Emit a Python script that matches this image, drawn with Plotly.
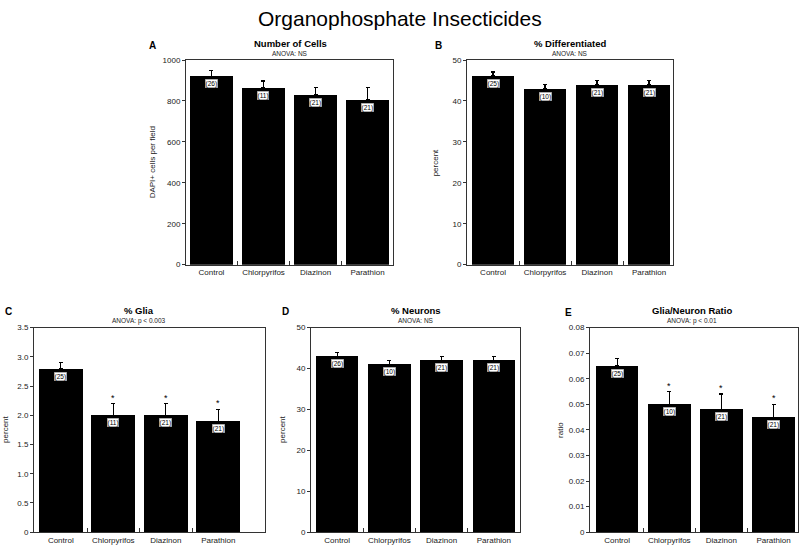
import plotly.graph_objects as go

# ---------------- data ----------------
categories = ["Control", "Chlorpyrifos", "Diazinon", "Parathion"]

cells_mean = [920, 864, 829, 806]
cells_err = [29, 34, 37, 58]
cells_n = ["(26)", "(11)", "(21)", "(21)"]
cells_star = ["", "", "", ""]

diff_mean = [46.1, 43.0, 44.0, 44.0]
diff_err = [1.0, 1.0, 1.0, 1.0]
diff_n = ["(25)", "(10)", "(21)", "(21)"]
diff_star = ["", "", "", ""]

glia_mean = [2.80, 2.00, 2.00, 1.90]
glia_err = [0.10, 0.20, 0.20, 0.20]
glia_n = ["(25)", "(11)", "(21)", "(21)"]
glia_star = ["", "*", "*", "*"]

neur_mean = [43.0, 41.0, 42.0, 42.0]
neur_err = [1.0, 1.0, 1.0, 1.0]
neur_n = ["(26)", "(10)", "(21)", "(21)"]
neur_star = ["", "", "", ""]

ratio_mean = [0.065, 0.050, 0.048, 0.045]
ratio_err = [0.003, 0.005, 0.006, 0.005]
ratio_n = ["(25)", "(10)", "(21)", "(21)"]
ratio_star = ["", "*", "*", "*"]

panel_letters = ["A", "B", "C", "D", "E"]
panel_titles = ["Number of Cells", "% Differentiated", "% Glia", "% Neurons", "Glia/Neuron Ratio"]
panel_subtitles = ["ANOVA: NS", "ANOVA: NS", "ANOVA: p < 0.003", "ANOVA: NS", "ANOVA: p < 0.01"]
y_titles = ["DAPI+ cells per field", "percent", "percent", "percent", "ratio"]

cells_ticks = [0, 200, 400, 600, 800, 1000]
cells_ticktext = ["0", "200", "400", "600", "800", "1000"]
pct_ticks = [0, 10, 20, 30, 40, 50]
pct_ticktext = ["0", "10", "20", "30", "40", "50"]
glia_ticks = [0, 0.5, 1.0, 1.5, 2.0, 2.5, 3.0, 3.5]
glia_ticktext = ["0", "0.5", "1.0", "1.5", "2.0", "2.5", "3.0", "3.5"]
ratio_ticks = [0, 0.01, 0.02, 0.03, 0.04, 0.05, 0.06, 0.07, 0.08]
ratio_ticktext = ["0", "0.01", "0.02", "0.03", "0.04", "0.05", "0.06", "0.07", "0.08"]

# ---------------- layout geometry (pixels) ----------------
W, H = 800, 549
FONT = "Liberation Sans, Arial, Helvetica, sans-serif"

panels = [
    dict(mean=cells_mean, err=cells_err, n=cells_n, star=cells_star,
         ticks=cells_ticks, ticktext=cells_ticktext, yr=[0, 1000],
         px=(186, 393), py=(57, 265), xr=[-0.49, 3.49], bw=0.82,
         letter_xy=(147, 42), title_x=290, ytitle_x=152),
    dict(mean=diff_mean, err=diff_err, n=diff_n, star=diff_star,
         ticks=pct_ticks, ticktext=pct_ticktext, yr=[0, 50],
         px=(467, 673), py=(57, 265), xr=[-0.5, 3.46], bw=0.81,
         letter_xy=(433, 42), title_x=570, ytitle_x=435),
    dict(mean=glia_mean, err=glia_err, n=glia_n, star=glia_star,
         ticks=glia_ticks, ticktext=glia_ticktext, yr=[0, 3.5],
         px=(34, 265), py=(329, 537), xr=[-0.51, 3.89], bw=0.83,
         letter_xy=(3, 313), title_x=139, ytitle_x=6),
    dict(mean=neur_mean, err=neur_err, n=neur_n, star=neur_star,
         ticks=pct_ticks, ticktext=pct_ticktext, yr=[0, 50],
         px=(311, 520), py=(329, 537), xr=[-0.5, 3.5], bw=0.81,
         letter_xy=(280, 313), title_x=416, ytitle_x=283),
    dict(mean=ratio_mean, err=ratio_err, n=ratio_n, star=ratio_star,
         ticks=ratio_ticks, ticktext=ratio_ticktext, yr=[0, 0.08],
         px=(590, 798), py=(329, 537), xr=[-0.52, 3.47], bw=0.82,
         letter_xy=(563, 314), title_x=692, ytitle_x=561),
]

fig = go.Figure()
annotations = []
xpos = list(range(len(categories)))

for i, p in enumerate(panels):
    k = "" if i == 0 else str(i + 1)
    xa, ya = "x" + k, "y" + k
    fig.add_trace(go.Bar(
        x=xpos, y=p["mean"], width=p["bw"], xaxis=xa, yaxis=ya,
        marker=dict(color="black", line=dict(width=0)),
        error_y=dict(type="data", symmetric=False, array=p["err"],
                     arrayminus=[0] * len(p["err"]), color="black",
                     thickness=1.2, width=2),
        showlegend=False, hoverinfo="skip",
    ))
    x0, x1 = p["px"]
    y0, y1 = p["py"]
    dom_x = [x0 / W, x1 / W]
    dom_y = [1 - y1 / H, 1 - y0 / H]
    fig.layout["xaxis" + k] = dict(
        domain=dom_x, range=p["xr"], anchor=ya, tickvals=xpos, ticktext=categories,
        ticks="", showline=True, mirror=True, linecolor="#333", linewidth=1,
        showgrid=False, zeroline=False, fixedrange=True,
        tickfont=dict(family=FONT, size=8, color="#222"),
        minor=dict(tickvals=[0.5, 1.5, 2.5], ticks="inside", ticklen=4,
                   tickcolor="#333", tickwidth=1, showgrid=False),
    )
    fig.layout["yaxis" + k] = dict(
        domain=dom_y, range=p["yr"], anchor=xa, tickvals=p["ticks"], ticktext=p["ticktext"],
        ticks="outside", ticklen=3, tickcolor="#333", showline=True, mirror=True,
        linecolor="#333", linewidth=1, showgrid=False, zeroline=False, fixedrange=True,
        tickfont=dict(family=FONT, size=8, color="#222"),
    )
    # panel letter
    lx, ly = p["letter_xy"]
    annotations.append(dict(x=lx / W, y=1 - ly / H, xref="paper", yref="paper",
                            text="<b>%s</b>" % panel_letters[i], showarrow=False,
                            xanchor="left", yanchor="middle",
                            font=dict(family=FONT, size=10, color="black")))
    # title + subtitle
    annotations.append(dict(x=p["title_x"] / W, y=1 - (y0 - 17) / H, xref="paper", yref="paper",
                            text="<b>%s</b>" % panel_titles[i], showarrow=False,
                            xanchor="center", yanchor="middle",
                            font=dict(family=FONT, size=9.5, color="black")))
    annotations.append(dict(x=p["title_x"] / W, y=1 - (y0 - 7) / H, xref="paper", yref="paper",
                            text=panel_subtitles[i], showarrow=False,
                            xanchor="center", yanchor="middle",
                            font=dict(family=FONT, size=6.5, color="#222")))
    # y axis title
    annotations.append(dict(x=p["ytitle_x"] / W, y=1 - ((y0 + y1) / 2) / H, xref="paper", yref="paper",
                            text=y_titles[i], showarrow=False, textangle=-90,
                            xanchor="center", yanchor="middle",
                            font=dict(family=FONT, size=8, color="#222")))
    # n labels inside bars and significance stars
    for j, c in enumerate(xpos):
        annotations.append(dict(x=c, y=p["mean"][j], xref=xa, yref=ya, text=p["n"][j],
                                showarrow=False, yanchor="top", yshift=-3,
                                bgcolor="white", borderpad=0, bordercolor="#999", borderwidth=0.5,
                                font=dict(family=FONT, size=6.5, color="black")))
        if p["star"][j]:
            annotations.append(dict(x=c, y=p["mean"][j] + p["err"][j], xref=xa, yref=ya,
                                    text=p["star"][j], showarrow=False, yanchor="bottom",
                                    yshift=-1, font=dict(family=FONT, size=9, color="black")))

annotations.append(dict(x=0.5, y=1 - 15 / H, xref="paper", yref="paper",
                        text="Organophosphate Insecticides", showarrow=False,
                        xanchor="center", yanchor="middle",
                        font=dict(family=FONT, size=21, color="black")))

fig.update_layout(
    width=W, height=H, margin=dict(l=0, r=0, t=0, b=0),
    paper_bgcolor="white", plot_bgcolor="white",
    annotations=annotations, showlegend=False, bargap=0,
)

fig.write_html("out.html", config={"displayModeBar": False, "staticPlot": True},
               post_script="document.body.style.margin='0';document.body.style.overflow='hidden';")
